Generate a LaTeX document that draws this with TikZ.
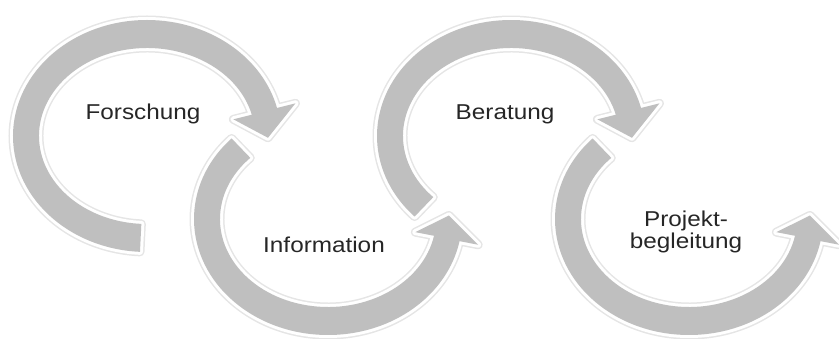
\documentclass[tikz,border=0pt]{standalone}
\usepackage{fontspec}
\setmainfont{Liberation Sans}
\usetikzlibrary{calc}
\tikzset{
  ring/.style={fill=gray!50,
    preaction={draw=gray!20, line width=9pt, line join=round},
    preaction={draw=white, line width=6pt, line join=round}},
  lbl/.style={font=\fontsize{21.5}{20}\selectfont, text=black!85, inner sep=0pt, xscale=1.13}
}

\begin{document}
\begin{tikzpicture}[x=1pt,y=1pt]
  \useasboundingbox (0,0) rectangle (839,338);
  % rings: centre / tail angle / head angle / tip angle
  \foreach \cx/\cy/\s/\e/\t in {147/202/267/14/-1, 328/119/136/349/362, 511/202/224/14/-1, 689/119/136/349/362} {%
    \coordinate (ctr) at (\cx,\cy);
    \path[ring] (ctr) ++(\s:134 and 116)
      arc[start angle=\s, end angle=\e, x radius=134, y radius=116]
      -- ($(ctr)+(\e:153 and 135)$)
      -- ($(ctr)+(\t:121 and 102)$)
      -- ($(ctr)+(\e:89 and 69)$)
      -- ($(ctr)+(\e:108 and 88)$)
      arc[start angle=\e, end angle=\s, x radius=108, y radius=88]
      -- cycle;
  }
  % labels
  \node[lbl, anchor=base] (forschung) at (143,218) {Forschung};
  \node[lbl, anchor=base] (information) at (324,86) {Information};
  \node[lbl, anchor=base] (beratung) at (505,218) {Beratung};
  \node[lbl, anchor=base, align=center] (projekt) at (686,90) {Projekt-\\begleitung};
\end{tikzpicture}
\end{document}
